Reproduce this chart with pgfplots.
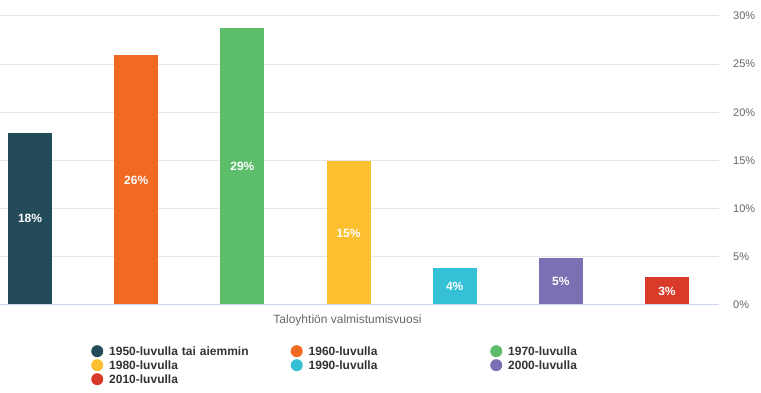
\documentclass[border=0pt]{standalone}
\usepackage{pgfplots}
\pgfplotsset{compat=1.18}
\usepackage{fontspec}
\setmainfont{Liberation Sans}
\definecolor{c1}{HTML}{244B5A}
\definecolor{c2}{HTML}{F26A22}
\definecolor{c3}{HTML}{5CBD6B}
\definecolor{c4}{HTML}{FCBF2F}
\definecolor{c5}{HTML}{35C0D6}
\definecolor{c6}{HTML}{7A70B4}
\definecolor{c7}{HTML}{DA3A2A}
\definecolor{gridc}{HTML}{E6E6E6}
\definecolor{axisc}{HTML}{CCD6EB}
\definecolor{tickc}{HTML}{666666}
\definecolor{legc}{HTML}{333333}
\begin{document}
\begin{tikzpicture}[x=1pt,y=1pt]
\useasboundingbox (0,0) rectangle (761,393);
\begin{axis}[
  at={(0pt,88pt)}, anchor=south west,
  scale only axis, width=719pt, height=289pt,
  xmin=-0.283, xmax=6.49, ymin=0, ymax=30,
  ytick={0,5,...,30}, yticklabel pos=right,
  yticklabel={\pgfmathprintnumber{\tick}\%},
  /pgf/number format/assume math mode=true,
  yticklabel style={anchor=west, inner sep=0pt, xshift=14pt, font=\fontsize{11}{13}\selectfont, text=tickc},
  xtick=\empty,
  ymajorgrids, grid style={color=gridc, line width=1pt},
  major tick length=0pt,
  axis line style={draw=none},
  ybar, bar width=44pt, bar shift=0pt,
  visualization depends on=y \as \rawy,
  nodes near coords={\pgfmathprintnumber[precision=0]{\pgfplotspointmeta}\%},
  every node near coord/.append style={anchor=center, shift={(axis direction cs:0,-\rawy/2)}, font=\bfseries\fontsize{12}{14}\selectfont, text=white},
  xlabel={Taloyhtiön valmistumisvuosi},
  xlabel style={at={(axis description cs:0.4833,-0.0519)}, anchor=center, font=\fontsize{12}{14}\selectfont, text=tickc},
  legend columns=3,
  legend cell align=left,
  legend image code/.code={\fill (0pt,0pt) circle (6pt);},
  legend style={at={(axis description cs:0.1266,-0.1384)}, anchor=north west, draw=none, fill=none,
    inner sep=0pt, row sep=2pt,
    font=\bfseries\fontsize{12}{14}\selectfont, text=legc,
    nodes={inner sep=0pt, text height=10pt, text depth=2pt, text width=181.5pt, align=left},
    /tikz/every odd column/.append style={column sep=6pt},
    /tikz/every even column/.append style={column sep=0pt}},
]
\addplot[fill=c1, draw=none] coordinates {(0,17.9)};
\addlegendentry{1950-luvulla tai aiemmin}
\addplot[fill=c2, draw=none] coordinates {(1,25.9)};
\addlegendentry{1960-luvulla}
\addplot[fill=c3, draw=none] coordinates {(2,28.8)};
\addlegendentry{1970-luvulla}
\addplot[fill=c4, draw=none] coordinates {(3,14.9)};
\addlegendentry{1980-luvulla}
\addplot[fill=c5, draw=none] coordinates {(4,3.85)};
\addlegendentry{1990-luvulla}
\addplot[fill=c6, draw=none] coordinates {(5,4.9)};
\addlegendentry{2000-luvulla}
\addplot[fill=c7, draw=none] coordinates {(6,2.9)};
\addlegendentry{2010-luvulla}
\draw[color=axisc, line width=1pt] (rel axis cs:0,0) -- (rel axis cs:1,0);
\end{axis}
\end{tikzpicture}
\end{document}
